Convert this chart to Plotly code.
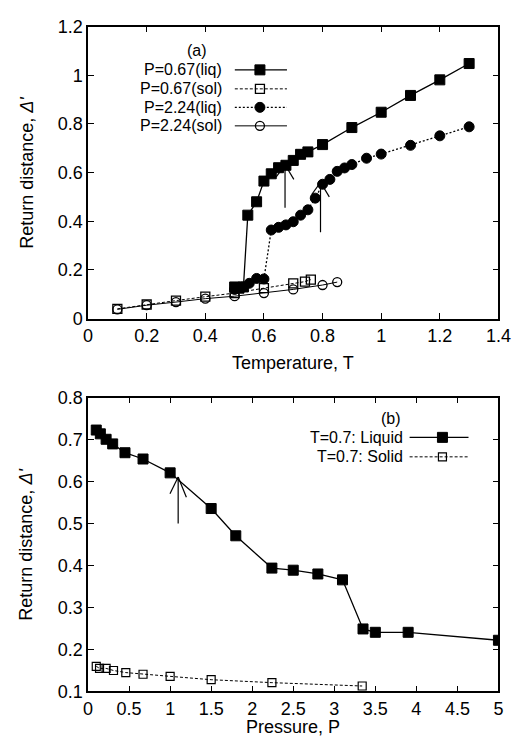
import plotly.graph_objects as go

# ---------------- data: panel (a) ----------------
T_liq067 = [0.5, 0.515, 0.53, 0.545, 0.575, 0.6, 0.625, 0.65, 0.675, 0.7, 0.725, 0.75, 0.8, 0.9, 1.0, 1.1, 1.2, 1.3]
D_liq067 = [0.13, 0.125, 0.13, 0.425, 0.48, 0.565, 0.595, 0.62, 0.63, 0.65, 0.675, 0.685, 0.715, 0.785, 0.848, 0.917, 0.981, 1.048]

T_sol067 = [0.1, 0.2, 0.3, 0.4, 0.5, 0.6, 0.7, 0.74, 0.76]
D_sol067 = [0.04, 0.058, 0.074, 0.09, 0.105, 0.125, 0.145, 0.152, 0.16]

T_liq224 = [0.5, 0.525, 0.55, 0.575, 0.6, 0.625, 0.65, 0.675, 0.7, 0.725, 0.75, 0.775, 0.8, 0.825, 0.85, 0.875, 0.9, 0.95, 1.0, 1.1, 1.2, 1.3]
D_liq224 = [0.12, 0.13, 0.145, 0.165, 0.163, 0.364, 0.375, 0.385, 0.398, 0.425, 0.447, 0.495, 0.552, 0.572, 0.605, 0.619, 0.633, 0.659, 0.676, 0.712, 0.751, 0.788]

T_sol224 = [0.1, 0.2, 0.3, 0.4, 0.5, 0.6, 0.7, 0.8, 0.85]
D_sol224 = [0.038, 0.055, 0.068, 0.082, 0.092, 0.105, 0.12, 0.138, 0.15]

# ---------------- data: panel (b) ----------------
P_liq = [0.1, 0.15, 0.22, 0.3, 0.45, 0.67, 1.0, 1.5, 1.8, 2.24, 2.5, 2.8, 3.1, 3.35, 3.5, 3.9, 5.0]
D_liq = [0.723, 0.714, 0.701, 0.69, 0.669, 0.654, 0.621, 0.536, 0.471, 0.394, 0.389, 0.38, 0.366, 0.249, 0.241, 0.241, 0.222]

P_sol = [0.1, 0.14, 0.22, 0.31, 0.46, 0.67, 1.0, 1.5, 2.24, 3.34]
D_sol = [0.16, 0.155, 0.155, 0.15, 0.145, 0.141, 0.136, 0.128, 0.121, 0.113]

# arrows: (x, y_tail, y_tip)
arrows_a = [(0.672, 0.455, 0.632), (0.793, 0.355, 0.56)]
arrows_b = [(1.098, 0.50, 0.611)]

legend_a = ["P=0.67(liq)", "P=0.67(sol)", "P=2.24(liq)", "P=2.24(sol)"]
legend_b = ["T=0.7: Liquid", "T=0.7: Solid"]

W, H = 524, 755
FONT = "Liberation Sans, Arial, Helvetica, sans-serif"
FS = 18
FL = 16

def px_x(p):
    return p / W

def px_y(p):
    return 1 - p / H

fig = go.Figure()

sty_a = [
    dict(symbol="square", size=10, color="black", line=dict(color="black", width=1), dash="solid", lw=1.3),
    dict(symbol="square-open", size=9, color="black", line=dict(color="black", width=1.3), dash="3px,2px", lw=1),
    dict(symbol="circle", size=10, color="black", line=dict(color="black", width=1), dash="2px,2px", lw=1.3),
    dict(symbol="circle-open", size=9, color="black", line=dict(color="black", width=1.3), dash="solid", lw=1),
]
series_a = [(T_liq067, D_liq067), (T_sol067, D_sol067), (T_liq224, D_liq224), (T_sol224, D_sol224)]
for (xs, ys), s in zip(series_a, sty_a):
    fig.add_trace(go.Scatter(x=xs, y=ys, mode="lines+markers", xaxis="x", yaxis="y",
                             line=dict(color="black", width=s["lw"], dash=s["dash"]),
                             marker=dict(symbol=s["symbol"], size=s["size"], color=s["color"], line=s["line"]),
                             showlegend=False))

sty_b = [sty_a[0], dict(symbol="square-open", size=8, color="black", line=dict(color="black", width=1.2), dash="3px,2px", lw=1)]
series_b = [(P_liq, D_liq), (P_sol, D_sol)]
for (xs, ys), s in zip(series_b, sty_b):
    fig.add_trace(go.Scatter(x=xs, y=ys, mode="lines+markers", xaxis="x2", yaxis="y2",
                             line=dict(color="black", width=s["lw"], dash=s["dash"]),
                             marker=dict(symbol=s["symbol"], size=s["size"], color=s["color"], line=s["line"]),
                             showlegend=False))

# legend samples (pixel overlay axis)
leg_rows_a = [61.5, 81, 100, 119]
for row, s in zip(leg_rows_a, sty_a):
    fig.add_trace(go.Scatter(x=[238, 264, 292], y=[row] * 3, mode="lines", xaxis="x3", yaxis="y3",
                             line=dict(color="black", width=s["lw"], dash=s["dash"]), showlegend=False))
    fig.add_trace(go.Scatter(x=[264], y=[row], mode="markers", xaxis="x3", yaxis="y3",
                             marker=dict(symbol=s["symbol"], size=s["size"], color=s["color"], line=s["line"]),
                             showlegend=False))
leg_rows_b = [439, 459]
for row, s in zip(leg_rows_b, sty_b):
    fig.add_trace(go.Scatter(x=[419, 453, 480], y=[row] * 3, mode="lines", xaxis="x3", yaxis="y3",
                             line=dict(color="black", width=s["lw"], dash=s["dash"]), showlegend=False))
    fig.add_trace(go.Scatter(x=[453], y=[row], mode="markers", xaxis="x3", yaxis="y3",
                             marker=dict(symbol=s["symbol"], size=s["size"], color=s["color"], line=s["line"]),
                             showlegend=False))

annotations = []
annotations.append(dict(text="(a)", x=px_x(199), y=px_y(42), xref="paper", yref="paper", borderpad=0,
                        showarrow=False, xanchor="center", yanchor="middle", font=dict(size=FL)))
for row, t in zip(leg_rows_a, legend_a):
    annotations.append(dict(text=t, x=px_x(226), y=px_y(row), xref="paper", yref="paper", borderpad=0,
                            showarrow=False, xanchor="right", yanchor="middle", font=dict(size=FL)))
annotations.append(dict(text="(b)", x=px_x(400), y=px_y(420), xref="paper", yref="paper", borderpad=0,
                        showarrow=False, xanchor="center", yanchor="middle", font=dict(size=FL)))
for row, t in zip(leg_rows_b, legend_b):
    annotations.append(dict(text=t, x=px_x(413), y=px_y(row), xref="paper", yref="paper", borderpad=0,
                            showarrow=False, xanchor="right", yanchor="middle", font=dict(size=FL)))

# axis titles
annotations.append(dict(text="Temperature, T", x=px_x(298), y=px_y(363), xref="paper", yref="paper",
                        showarrow=False, xanchor="center", yanchor="middle", font=dict(size=FS)))
annotations.append(dict(text="Pressure, P", x=px_x(298), y=px_y(737), xref="paper", yref="paper",
                        showarrow=False, xanchor="center", yanchor="middle", font=dict(size=FS)))
annotations.append(dict(text="Return distance, <i>Δ'</i>", x=px_x(22), y=px_y(167), xref="paper", yref="paper",
                        showarrow=False, textangle=-90, xanchor="center", yanchor="middle", font=dict(size=FS)))
annotations.append(dict(text="Return distance, <i>Δ'</i>", x=px_x(22), y=px_y(549), xref="paper", yref="paper",
                        showarrow=False, textangle=-90, xanchor="center", yanchor="middle", font=dict(size=FS)))

shapes = []
def add_arrow(xr, yr, x, y0, y1, dx, dy):
    ln = dict(color="black", width=1.2)
    shapes.append(dict(type="line", xref=xr, yref=yr, x0=x, x1=x, y0=y0, y1=y1, line=ln))
    shapes.append(dict(type="line", xref=xr, yref=yr, x0=x, x1=x - dx, y0=y1, y1=y1 - dy, line=ln))
    shapes.append(dict(type="line", xref=xr, yref=yr, x0=x, x1=x + dx, y0=y1, y1=y1 - dy * 1.2, line=ln))

for x, y0, y1 in arrows_a:
    add_arrow("x", "y", x, y0, y1, 0.03, 0.05)
for x, y0, y1 in arrows_b:
    add_arrow("x2", "y2", x, y0, y1, 0.1, 0.04)

axis_common = dict(showline=True, linecolor="black", linewidth=1.5, mirror="allticks", ticks="inside",
                   ticklen=6, tickwidth=1, tickcolor="black", showgrid=False, zeroline=False,
                   tickfont=dict(size=FS, color="black"))

fig.update_layout(
    width=W, height=H,
    margin=dict(l=0, r=0, t=0, b=0),
    paper_bgcolor="white", plot_bgcolor="rgba(0,0,0,0)",
    font=dict(family=FONT, color="black", size=FS),
    xaxis=dict(domain=[px_x(86), px_x(511)], range=[0, 1.4], dtick=0.2, anchor="y", **axis_common),
    yaxis=dict(domain=[px_y(317), px_y(17)], range=[0, 1.2], dtick=0.2, anchor="x", **axis_common),
    xaxis2=dict(domain=[px_x(86), px_x(511)], range=[0, 5], dtick=0.5, anchor="y2", **axis_common),
    yaxis2=dict(domain=[px_y(700), px_y(398.3)], range=[0.1, 0.8], dtick=0.1, anchor="x2", **axis_common),
    xaxis3=dict(domain=[0, 1], range=[0, W], visible=False, anchor="y3", fixedrange=True),
    yaxis3=dict(domain=[0, 1], range=[H, 0], visible=False, anchor="x3", fixedrange=True),
    annotations=annotations,
    shapes=shapes,
)

fig.write_html("out.html")
